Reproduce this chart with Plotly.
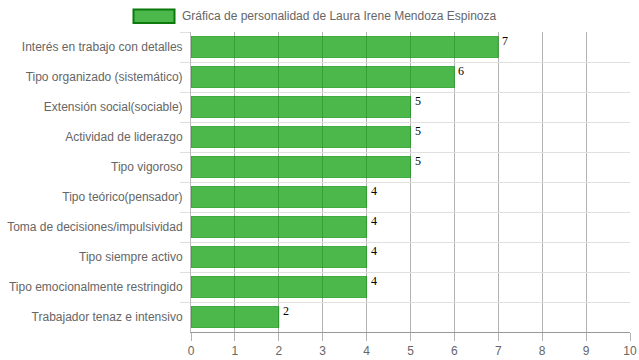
import plotly.graph_objects as go

categories = [
    "Interés en trabajo con detalles",
    "Tipo organizado (sistemático)",
    "Extensión social(sociable)",
    "Actividad de liderazgo",
    "Tipo vigoroso",
    "Tipo teórico(pensador)",
    "Toma de decisiones/impulsividad",
    "Tipo siempre activo",
    "Tipo emocionalmente restringido",
    "Trabajador tenaz e intensivo",
]
values = [7, 6, 5, 5, 5, 4, 4, 4, 4, 2]
series_name = "Gráfica de personalidad de Laura Irene Mendoza Espinoza"
x_ticks = list(range(0, 11))

W, H = 639, 360
L, R, T, B = 191, 9, 32, 28
pw, ph = W - L - R, H - T - B

def px_x(p):
    return (p - L) / pw

def px_y(p):
    return 1 - (p - T) / ph

fig = go.Figure()
fig.add_trace(go.Bar(
    x=values, y=categories, orientation="h",
    marker=dict(color="rgba(0,154,0,0.7)",
                line=dict(color="rgba(0,140,0,0.6)", width=1)),
    showlegend=False, hoverinfo="x+y",
))

for v, c in zip(values, categories):
    fig.add_annotation(x=v, y=c, text=str(v), showarrow=False,
                       xanchor="left", yanchor="middle", xshift=2, yshift=6,
                       font=dict(family="Liberation Serif, Times New Roman, serif",
                                 size=12, color="#000"))

# legend
fig.add_shape(type="rect", xref="paper", yref="paper",
              x0=px_x(133.5), x1=px_x(174.5), y0=px_y(23), y1=px_y(9.5),
              fillcolor="rgba(0,154,0,0.7)", line=dict(color="#0b7a0b", width=2))
fig.add_annotation(xref="paper", yref="paper", x=px_x(180), y=px_y(15.5),
                   text=series_name, showarrow=False, xanchor="left", yanchor="middle",
                   font=dict(family="Liberation Sans, Arial, sans-serif", size=12, color="#666"))

fig.update_layout(
    width=W, height=H,
    margin=dict(l=L, r=R, t=T, b=B, autoexpand=False),
    paper_bgcolor="white", plot_bgcolor="white",
    bargap=0.3,
    font=dict(family="Liberation Sans, Arial, sans-serif", size=12, color="#666"),
    xaxis=dict(range=[0, 10], tickvals=x_ticks, showgrid=True, gridcolor="#b3b3b3",
               gridwidth=1, zeroline=False, showline=True, linecolor="#999", linewidth=1,
               ticks="outside", ticklen=8, tickcolor="#b3b3b3", automargin=False,
               tickfont=dict(size=12, color="#666")),
    yaxis=dict(autorange="reversed", type="category", tickson="boundaries",
               showgrid=True, gridcolor="#e0e0e0", gridwidth=1,
               showline=True, linecolor="#bbb", linewidth=1, automargin=False,
               ticks="outside", ticklen=10, tickcolor="#e0e0e0",
               ticklabelstandoff=5,
               tickfont=dict(size=12, color="#666")),
)

fig.write_html("out.html", config={"displayModeBar": False},
               post_script="document.body.style.margin='0px';document.body.style.padding='0px';document.body.style.overflow='hidden';")
